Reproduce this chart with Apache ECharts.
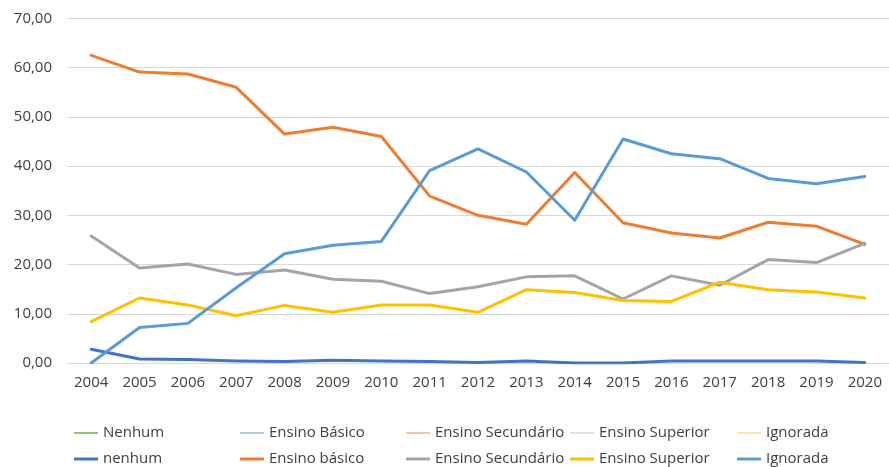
<!DOCTYPE html>
<html>
<head>
<meta charset="utf-8">
<script src="https://cdn.jsdelivr.net/npm/echarts@6/dist/echarts.min.js"></script>
<style>
  html, body { margin: 0; padding: 0; background: #ffffff; }
  #chart { width: 889px; height: 467px; }
</style>
</head>
<body>
<div id="chart"></div>
<script>
// Anos (eixo das categorias)
const years = ['2004','2005','2006','2007','2008','2009','2010','2011','2012','2013','2014','2015','2016','2017','2018','2019','2020'];

// Percentagens por nível de escolaridade
const nenhum           = [2.8, 0.8, 0.7, 0.4, 0.3, 0.55, 0.4, 0.3, 0.1, 0.4, 0.0, 0.0, 0.4, 0.4, 0.4, 0.4, 0.1];
const ensinoBasico     = [62.5, 59.1, 58.7, 56.0, 46.5, 47.9, 46.0, 33.9, 30.0, 28.2, 38.7, 28.5, 26.4, 25.4, 28.6, 27.8, 24.1];
const ensinoSecundario = [25.8, 19.3, 20.1, 18.0, 18.9, 17.0, 16.6, 14.1, 15.5, 17.5, 17.7, 13.0, 17.7, 15.8, 21.0, 20.4, 24.3];
const ensinoSuperior   = [8.4, 13.2, 11.8, 9.6, 11.7, 10.3, 11.8, 11.8, 10.3, 14.9, 14.3, 12.7, 12.5, 16.4, 14.9, 14.4, 13.2];
const ignorada         = [0.0, 7.2, 8.05, 15.3, 22.2, 23.9, 24.7, 39.1, 43.5, 38.8, 29.0, 45.5, 42.5, 41.5, 37.5, 36.4, 37.9];

// Séries sem valores (apenas na legenda, primeira linha)
const emptySeries = [];

// Textos da legenda
const topLabels    = ['Nenhum', 'Ensino Básico', 'Ensino Secundário', 'Ensino Superior', 'Ignorada'];
const bottomLabels = ['nenhum', 'Ensino básico', 'Ensino Secundário', 'Ensino Superior', 'Ignorada'];

// Eixo Y
const yMin = 0, yMax = 70, yStep = 10;

const topColors    = ['#70AD47', '#9DB5E0', '#F4B58F', '#D6D6D6', '#FFDA9A'];
const bottomColors = ['#4472C4', '#ED7D31', '#A5A5A5', '#FFC000', '#5B9BD5'];
const bottomData   = [nenhum, ensinoBasico, ensinoSecundario, ensinoSuperior, ignorada];

const labelOf = {};
const series = [];
topLabels.forEach((lab, i) => {
  const key = 't' + i;
  labelOf[key] = lab;
  series.push({
    name: key, type: 'line', data: emptySeries, symbol: 'none',
    color: topColors[i], lineStyle: { width: 1.5, color: topColors[i] }
  });
});
bottomLabels.forEach((lab, i) => {
  const key = 'b' + i;
  labelOf[key] = lab;
  series.push({
    name: key, type: 'line', data: bottomData[i], symbol: 'none',
    color: bottomColors[i], lineStyle: { width: 3, color: bottomColors[i], cap: 'round', join: 'round' },
    animation: false
  });
});

// Legenda em duas linhas, cinco colunas
const colX = [74, 240, 406, 570, 737];
const legends = [];
[['t', 425, 1.5], ['b', 451, 3]].forEach(([p, top, h]) => {
  colX.forEach((x, i) => {
    legends.push({
      data: [p + i], left: x, top: top, orient: 'horizontal', padding: 0,
      icon: 'rect', itemWidth: 24, itemHeight: h,
      selectedMode: false,
      formatter: n => labelOf[n],
      textStyle: { fontFamily: 'Open Sans', fontSize: 15, color: '#404040', lineHeight: 16 }
    });
  });
});

const chart = echarts.init(document.getElementById('chart'), null, { renderer: 'canvas' });
chart.setOption({
  animation: false,
  backgroundColor: '#ffffff',
  grid: { left: 67, right: 0, top: 18.4, bottom: 104, containLabel: false },
  legend: legends,
  xAxis: {
    type: 'category', data: years, boundaryGap: true,
    axisLine: { show: true, lineStyle: { color: '#D9D9D9', width: 1 } },
    axisTick: { show: false },
    axisLabel: { margin: 12, fontFamily: 'Open Sans', fontSize: 15, color: '#404040' }
  },
  yAxis: {
    type: 'value', min: yMin, max: yMax, interval: yStep,
    axisLine: { show: false }, axisTick: { show: false },
    splitLine: { lineStyle: { color: '#D9D9D9', width: 1 } },
    axisLabel: {
      margin: 15, fontFamily: 'Open Sans', fontSize: 15, color: '#404040',
      formatter: v => v.toFixed(2).replace('.', ',')
    }
  },
  series: series
});
</script>
</body>
</html>
